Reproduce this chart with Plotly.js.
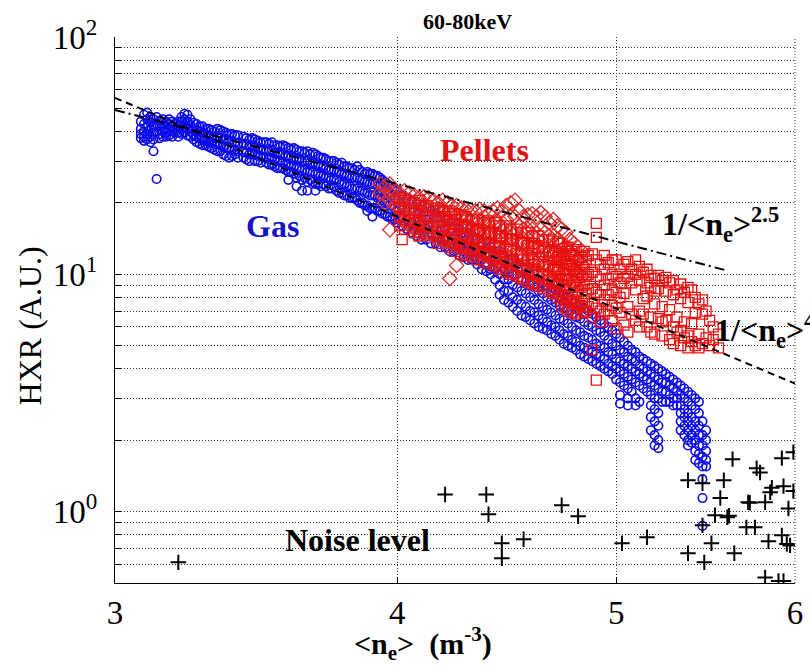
<!DOCTYPE html>
<html>
<head>
<meta charset="utf-8">
<script src="https://cdn.plot.ly/plotly-3.0.1.min.js"></script>
<style>
  html, body { margin: 0; padding: 0; background: #fff; }
  #chart { width: 810px; height: 670px; }
</style>
</head>
<body>
<div id="chart"></div>
<script>
// Hard X-ray signal (60-80 keV) versus line-averaged density, gas vs pellet fuelling.

// Gas fuelled discharges: density columns and the HXR values read at each.
const gasN = [
  3.08, 3.09, 3.10, 3.11, 3.12, 3.13, 3.14, 3.15, 3.16, 3.17, 3.18, 3.19, 3.20,
  3.21, 3.22, 3.23, 3.24, 3.25, 3.26, 3.27, 3.28, 3.29, 3.30, 3.31, 3.32, 3.33,
  3.34, 3.35, 3.36, 3.37, 3.38, 3.39, 3.40, 3.42, 3.43, 3.44, 3.45, 3.46, 3.47,
  3.48, 3.49, 3.50, 3.51, 3.52, 3.53, 3.54, 3.55, 3.56, 3.57, 3.58, 3.59, 3.60,
  3.61, 3.62, 3.63, 3.64, 3.65, 3.66, 3.67, 3.68, 3.69, 3.70, 3.71, 3.72, 3.73,
  3.74, 3.75, 3.76, 3.77, 3.78, 3.79, 3.80, 3.81, 3.82, 3.83, 3.84, 3.85, 3.86,
  3.87, 3.88, 3.89, 3.90, 3.91, 3.92, 3.93, 3.94, 3.95, 3.96, 3.97, 3.98, 3.99,
  4.00, 4.02, 4.04, 4.06, 4.08, 4.10, 4.12, 4.14, 4.16, 4.18, 4.20, 4.22, 4.24,
  4.26, 4.28, 4.30, 4.32, 4.34, 4.36, 4.38, 4.40, 4.42, 4.44, 4.46, 4.48, 4.50,
  4.52, 4.54, 4.56, 4.58, 4.60, 4.62, 4.64, 4.66, 4.68, 4.70, 4.72, 4.74, 4.76,
  4.78, 4.80, 4.82, 4.84, 4.86, 4.88, 4.90, 4.92, 4.94, 4.96, 4.98, 5.00, 5.02,
  5.04, 5.06, 5.08, 5.10, 5.12, 5.14, 5.16, 5.18, 5.20, 5.22, 5.24, 5.26, 5.28,
  5.30, 5.32, 5.34, 5.36, 5.38, 5.40, 5.42, 5.44, 5.46, 5.48
];
const gasHXR = [
  [44, 41, 39, 37.5], [47, 43, 40, 38, 36.5], [48, 45, 42, 39, 37], [46, 43.5, 40.5, 38, 36],
  [45, 42, 39.5, 37, 33], [46, 43, 40, 25.2], [44.5, 42, 39, 37.5], [45, 42.5, 40, 38],
  [44, 41.5, 39.5, 38], [45, 43, 40.5, 38.5], [44, 42, 40, 38], [43, 41, 39.5],
  [44, 42, 39.5, 38], [46, 44, 41, 39], [47.5, 45, 42, 39.5], [47, 44, 41, 38.5],
  [45, 42.5, 40, 38], [43.5, 41, 38.5, 37], [43, 40.5, 38, 36], [42, 40, 37.5, 35.5],
  [42, 39.5, 37, 35], [41, 39, 36.5, 35], [41, 38.5, 36, 34.5], [40.5, 38, 36, 34],
  [40, 37.5, 35.5, 33.5], [41, 38, 35.5, 33], [40.5, 37.5, 35, 33], [40, 37, 34.5, 32],
  [39.5, 37, 34, 31.5], [39, 36.5, 34, 31], [39, 36, 33.5, 31.5], [38.5, 36, 33.5, 32],
  [38.5, 35.5, 33, 31], [38, 35.5, 33, 31], [37.5, 35, 32.5, 30.5], [37, 34.5, 32, 30],
  [37.5, 35, 32.5], [37, 34.5, 32, 30], [36.5, 34, 31.5, 30], [36, 33.5, 31.5, 29.5],
  [36, 33.5, 31], [36, 33, 31, 29.5], [35.5, 33, 30.5, 29], [36, 33.5, 31, 29],
  [35, 32.5, 30.5, 28.5], [35, 32.5, 30, 28], [34.5, 32, 30, 28], [35, 32, 29.5, 28],
  [34.5, 31.5, 29, 27.5], [34, 31.5, 29, 27, 25], [33.5, 31, 28.5, 27], [34, 31, 28.5, 26.5],
  [33.5, 30.5, 28, 25.5, 23.5], [33, 30.5, 28, 26], [33, 30, 27.5, 25, 22.5], [32.5, 30, 27.5, 25.5],
  [33, 30, 27, 24.5, 22.5], [32, 29.5, 27, 25], [32.5, 29.5, 27, 24.5], [32, 29, 26.5, 24, 22.5],
  [31.5, 29, 26.5, 24], [31, 28.5, 26, 23.5], [31, 28.5, 26, 24], [30.5, 28, 25.5, 23.5],
  [30, 27.5, 25.5, 23], [30, 27.5, 25, 23], [30, 27.5, 25, 23.5], [29.5, 27, 25, 22.5],
  [29, 27, 24.5, 22], [29.5, 26.5, 24, 22], [28.5, 26.5, 24, 21.5], [28.5, 26, 23.5, 21.5],
  [28, 26, 23.5, 21], [28, 25.5, 23, 21], [27.5, 25.5, 23, 21], [28.5, 25.5, 23, 20.5],
  [27.5, 25, 22.5, 20], [27, 25, 22.5, 20], [26.5, 24.5, 22, 19.5], [27, 24.5, 22, 19.5, 18.5],
  [26.5, 24, 21.5, 19], [26.5, 24, 21.5, 19, 17.5], [26, 24, 21.5, 19], [26, 23.5, 21, 18.5],
  [25.5, 23.5, 21, 18.5], [25, 23, 20.5, 18], [24.5, 22.5, 20, 18], [24, 22, 20, 17.5],
  [23.5, 22, 19.5, 17.5], [23, 21.5, 19.5, 17], [23, 21, 19, 17], [22.5, 20.5, 18.5, 16.5],
  [21.5, 19.5, 17.5, 16], [21, 19, 17, 15.5], [20.5, 18.5, 16.5, 15], [20, 18, 16, 14.5],
  [19.5, 17.5, 15.5, 14], [19, 17, 15.5, 14], [18.5, 16.5, 15, 13.5], [18, 16, 14.5, 13.5],
  [17.5, 15.5, 14, 13], [17, 15.5, 14, 13], [16.5, 15, 13.5, 12.5], [16, 14.5, 13, 12.5],
  [15.5, 14, 13, 12], [15, 13.5, 12.5, 11.8], [15, 13.5, 12.5, 11.5], [14.5, 13, 12, 11.5],
  [14, 12.5, 11.5, 11], [13.5, 12.5, 11.5, 10.5], [13, 12, 11, 10.3], [13, 11.5, 10.5, 10],
  [12.5, 11.5, 10.5, 9.5], [12.5, 11, 10, 9, 8.2], [12, 10.5, 9.5, 8.5, 7.8], [11.5, 10.5, 9.5, 8.5, 7.6],
  [11.5, 10, 9, 8, 7.3], [11, 10, 8.8, 7.8, 7], [10.5, 9.5, 8.5, 7.5, 6.7], [10.5, 9.3, 8.3, 7.3, 6.6],
  [10, 9, 8, 7, 6.4], [10, 8.8, 7.8, 6.9, 6.2], [9.5, 8.5, 7.5, 6.7, 6.0], [9.2, 8.3, 7.3, 6.5, 5.9],
  [9, 8, 7.1, 6.3, 5.8], [8.8, 7.8, 6.9, 6.1, 5.6], [8.6, 7.6, 6.7, 6.0, 5.5], [8.4, 7.4, 6.5, 5.8, 5.3],
  [8.2, 7.2, 6.4, 5.6, 5.1], [8, 7, 6.2, 5.5, 5.0], [7.8, 6.8, 6.0, 5.3, 4.9], [7.6, 6.6, 5.8, 5.2, 4.8],
  [7.4, 6.5, 5.7, 5.0, 4.6], [7.2, 6.3, 5.5, 4.9, 4.5], [7, 6.1, 5.4, 4.8, 4.4], [6.8, 6.0, 5.3, 4.7, 4.3],
  [6.6, 5.8, 5.1, 4.6, 4.2], [6.4, 5.7, 5.0, 4.5, 4.1], [6.2, 5.5, 4.9, 4.4, 4.0], [6.0, 5.3, 4.7, 4.2, 3.9],
  [5.8, 5.1, 4.6, 4.1, 3.8], [5.6, 5.0, 4.4, 4.0, 3.6], [5.4, 4.8, 4.3, 3.9, 3.5, 3.1, 2.85],
  [5.2, 4.7, 4.2, 3.8, 3.4], [5.0, 4.5, 4.1, 3.7, 3.3, 3.0, 2.8], [4.8, 4.4, 4.0, 3.6, 3.2],
  [4.7, 4.3, 3.9, 3.5, 3.0, 2.8], [4.5, 4.1, 3.8, 3.4, 2.9], [4.4, 4.0, 3.7, 3.3], [4.3, 3.9, 3.6, 3.2],
  [4.2, 3.8, 3.5, 3.1, 2.8, 2.5, 2.2], [4.1, 3.7, 3.4, 3.0, 2.7, 2.4, 2.1, 1.9],
  [4.0, 3.6, 3.3, 3.0, 2.6, 2.3, 2.0, 1.85], [3.9, 3.5, 3.2, 2.9], [3.8, 3.5, 3.2, 2.9], [3.7, 3.4, 3.1, 2.9],
  [3.6, 3.3, 3.0, 2.8], [3.5, 3.2, 3.0, 2.8], [3.4, 3.1, 2.8, 2.6, 2.4, 2.2], [3.3, 3.0, 2.7, 2.5, 2.3, 2.1],
  [3.2, 2.9, 2.6, 2.4, 2.2, 2.0, 1.9], [3.1, 2.8, 2.5, 2.3, 2.1, 1.95], [3.0, 2.7, 2.4, 2.2, 2.0, 1.8, 1.65],
  [2.9, 2.6, 2.3, 2.1, 1.9, 1.75, 1.6], [2.4, 2.1, 1.9, 1.7, 1.55, 1.37, 1.14, 0.87], [2.2, 2.0, 1.8, 1.65, 1.55]
];

// Pellet fuelled discharges, diamond-marked series.
const pelletDiamondN = [
  3.93, 3.95, 3.97, 3.99, 4.01, 4.03, 4.05, 4.07, 4.09, 4.11, 4.13, 4.15, 4.17,
  4.19, 4.21, 4.22, 4.23, 4.25, 4.27, 4.29, 4.31, 4.33, 4.35, 4.37, 4.39, 4.41,
  4.43, 4.45, 4.47, 4.49, 4.51, 4.53, 4.55, 4.57, 4.59, 4.61, 4.63, 4.65, 4.67,
  4.69, 4.71, 4.73, 4.75, 4.77, 4.79, 4.81, 4.83
];
const pelletDiamondHXR = [
  [24, 22], [23.5, 21.5, 20], [24, 22, 20.5, 15.4], [22.5, 21, 19.5], [22, 20.5, 19, 17.5],
  [22.5, 21, 19.5, 18, 16.5], [22, 20.5, 19, 17.5, 16], [21.5, 20, 18.5, 17, 15.5], [21, 19.5, 18, 16.5, 15],
  [21.2, 19.5, 18, 16.5, 15], [21, 19, 17.5, 16, 14.5], [20.5, 18.8, 17.2, 15.8, 14.5], [20, 18.5, 17, 15.5, 14],
  [20.5, 18.5, 17, 15.5, 14], [20, 18.2, 16.7, 15.2, 13.8], [9.6], [19.5, 18, 16.5, 15, 13.5],
  [19.5, 17.8, 16.3, 14.8, 13.3, 10.9], [19, 17.5, 16, 14.5, 13], [18.8, 17.2, 15.8, 14.3, 12.8],
  [18.7, 17, 15.5, 14, 12.5], [18.5, 16.8, 15.3, 13.8, 12.3], [18.8, 16.8, 15, 13.5, 12.2],
  [18.5, 16.5, 14.8, 13.3, 12], [18.1, 16.3, 14.6, 13.1, 11.8], [18.5, 16.2, 14.5, 13, 11.5],
  [19, 16.5, 14.5, 12.8, 11.3], [18.5, 16, 14.2, 12.6, 11.1], [19.5, 17, 14.8, 13, 11.3],
  [20, 17.5, 15, 13, 11.5], [20.5, 17.5, 15, 12.8, 11.2], [18.5, 16, 13.8, 12, 10.6],
  [17.5, 15.5, 13.5, 11.8, 10.3], [17.8, 15.5, 13.5, 11.6, 10.2], [18, 15.5, 13.3, 11.5, 10],
  [17.5, 15, 13, 11.3, 9.9], [18.2, 15.5, 13, 11.2, 9.7], [17.5, 15, 12.8, 11, 9.6],
  [16.5, 14.5, 12.5, 10.8, 9.4], [17, 14.5, 12.3, 10.6, 9.3], [16, 14, 12, 10.4, 9.1],
  [15.5, 13.5, 11.8, 10.2], [15, 13.2, 11.5, 10], [14, 12.5, 11, 9.6], [13.5, 12, 10.5, 9.2],
  [13, 11.5, 10.2], [12.5, 11, 9.8]
];

// Pellet fuelled discharges, square-marked series.
const pelletSquareN = [
  4.01, 4.02, 4.03, 4.05, 4.07, 4.09, 4.10, 4.12, 4.15, 4.17, 4.19, 4.20, 4.22,
  4.24, 4.25, 4.27, 4.29, 4.30, 4.32, 4.34, 4.35, 4.37, 4.39, 4.40, 4.42, 4.44,
  4.45, 4.47, 4.49, 4.50, 4.52, 4.54, 4.55, 4.57, 4.59, 4.60, 4.62, 4.64, 4.65,
  4.67, 4.69, 4.70, 4.71, 4.72, 4.73, 4.74, 4.75, 4.76, 4.77, 4.78, 4.79, 4.80,
  4.81, 4.82, 4.83, 4.84, 4.85, 4.86, 4.88, 4.90, 4.92, 4.94, 4.96, 4.98, 5.00,
  5.02, 5.04, 5.06, 5.08, 5.10, 5.12, 5.14, 5.16, 5.18, 5.20, 5.22, 5.24, 5.26,
  5.28, 5.30, 5.32, 5.34, 5.36, 5.38, 5.40, 5.42, 5.44, 5.46, 5.48, 5.50, 5.52,
  5.55
];
const pelletSquareHXR = [
  [21, 19, 17.5, 16], [14], [20.5, 18.5, 17, 15.5], [20, 17], [20, 18, 16.5, 15],
  [20.5, 18.5, 17, 15.5, 14.5], [19.5, 16], [19.5, 17.5, 16, 14.8], [18.5, 15],
  [19, 17.5, 16, 14.5, 13.5], [18.5, 16.8, 15.2, 14], [17.5, 14.5], [18.5, 17, 15.5, 14, 13],
  [18, 16.3, 14.8, 13.5, 12.5], [17, 14], [17.8, 16, 14.5, 13.2, 12.2], [17.5, 15.8, 14.2, 13, 12],
  [16, 13.5], [17, 15.5, 14, 12.8, 11.8], [17, 15.3, 13.8, 12.5, 11.5], [15.5, 13],
  [16.5, 15, 13.5, 12.3, 11.2], [16.8, 15, 13.4, 12, 11], [15, 12.5], [16.5, 14.8, 13.2, 11.8, 10.8],
  [16, 14.5, 13, 11.6, 10.5], [14.5, 12, 10.5], [16, 14.2, 12.7, 11.3, 10.2], [15.5, 14, 12.5, 11, 10],
  [14, 11.5, 10], [15.5, 13.8, 12.2, 10.8, 9.8], [15, 13.5, 12, 10.6, 9.6], [13.5, 11.5, 9.5],
  [15, 13.2, 11.7, 10.4, 9.3], [14.5, 13, 11.5, 10.2, 9.1], [13.5, 11, 9.2], [14.5, 12.8, 11.3, 10, 8.9],
  [14, 12.5, 11, 9.8, 8.7], [13, 10.8, 9], [14, 12.3, 10.8, 9.5, 8.5], [13.8, 12, 10.6, 9.3, 8.3],
  [12.5, 10.5, 8.6], [13.5, 11.8, 10.4, 9.1, 8.0], [13.5, 11.5, 9.8, 8.4], [12.8, 11.2, 9.6, 8.2, 7.4],
  [12, 10.5, 9, 7.8], [12.5, 11, 9.4, 8.1, 7.2], [13, 11, 9.5, 8, 7], [12.2, 10.6, 9.0, 7.7],
  [12.5, 10.8, 9.2, 7.8, 6.9], [12, 10.3, 8.8, 7.5], [12.7, 10.5, 9, 7.6, 6.8],
  [11.5, 10, 8.5, 7.2], [11.8, 10.2, 8.8, 7.4], [11.8, 10, 8.6, 7.3], [12.5, 10.5, 9, 7.7, 6.9],
  [11.5, 9.8, 8.3, 7.0], [12, 10, 8.6, 7.3],
  [12.2, 10.2, 8.7, 7.5, 6.6, 4.8], [16.4, 14.3, 11.5, 9.8, 8.4, 7.2, 3.58], [11, 9.5, 8.2, 7, 6.3],
  [12, 10.5, 9, 7.8, 6.8], [11.2, 9.6, 8.2, 7], [11.5, 10, 8.6, 7.4, 6.4],
  [11.5, 9.8, 8.4, 7.2, 5.9], [10.5, 9.2, 8, 6.9], [11, 9.6, 8.3, 6.1], [11.3, 9.8, 7.3, 5.7],
  [10.5, 9.2, 6.8], [11.5, 10, 8.6, 6.4], [10.8, 9.4, 7, 6], [10.2, 7.9, 6.8], [10.5, 9.2, 8.1, 6],
  [9.9, 8.8, 6.6, 5.7], [9.6, 8.5, 7.5, 5.6], [9.9, 8.7, 6.5], [9.4, 7.3, 6.3, 5.5],
  [9.7, 8.5, 6.4], [9.2, 7.1, 5.3], [9.4, 8.2, 6, 5.1], [8.6, 6.6, 5.7], [9.1, 7.9, 5.8, 5.0],
  [8.4, 6.3, 5.4], [8.8, 7.6, 5.5, 4.9], [8.6, 6.2, 5.2], [8.0, 6.9, 5.0], [7.5, 5.6, 4.9],
  [7.8, 6.8, 5.1], [7.0, 5.4], [6.4, 5.0], [6.0, 5.3], [5.6, 4.9]
];

// Noise level readings.
const noiseN = [
  3.20, 4.20, 4.38, 4.39, 4.45, 4.45, 4.55, 4.73, 4.81, 5.03, 5.16, 5.38, 5.46,
  5.58, 5.63, 5.77, 5.79, 5.92, 5.99, 5.56, 5.53, 5.60, 5.61, 5.46, 5.51, 5.38,
  5.47, 5.64, 5.72, 5.73, 5.82, 5.85, 5.86, 5.93, 5.99, 5.96, 5.71, 5.76, 5.84,
  5.92, 5.95, 5.97, 5.82, 5.90, 5.93
];
const noiseHXR = [
  0.611, 1.18, 1.18, 0.974, 0.735, 0.635, 0.764, 1.063, 0.955, 0.735, 0.779, 1.356, 1.316,
  1.356, 1.663, 1.523, 1.46, 1.679, 1.78, 1.14, 0.965, 0.946, 0.96, 0.875, 0.735, 0.667,
  0.611, 0.667, 1.094, 1.09, 1.094, 1.206, 1.26, 1.28, 1.22, 1.03, 0.858, 0.858, 0.749,
  0.794, 0.73, 0.72, 0.528, 0.51, 0.51
];

// Power-law scalings HXR = A / <n_e>^p, drawn over the density span given.
const scalingExponents = [2.5, 4];
const scalingAmplitudes = [768.5, 4487];
const scalingSpans = [[3.0, 5.6], [3.0, 6.0]];
const scalingDash = ['10px,4px,2px,4px', '7px,5px'];

// Axis ticks.
const xTicks = [3, 4, 5, 6];
const yDecades = [1, 10, 100];
const yTicks = [0.5, 0.6, 0.7, 0.8, 0.9, 1, 2, 3, 4, 5, 6, 7, 8, 9,
                10, 20, 30, 40, 50, 60, 70, 80, 90, 100];

function flatten(cols, vals) {
  const xs = [], ys = [];
  cols.forEach((c, i) => vals[i].forEach(v => { xs.push(c); ys.push(v); }));
  return { xs, ys };
}

const serif = 'Liberation Serif';
const gas = flatten(gasN, gasHXR);
const dia = flatten(pelletDiamondN, pelletDiamondHXR);
const sq = flatten(pelletSquareN, pelletSquareHXR);

const traces = [
  { type: 'scatter', mode: 'markers', x: gas.xs, y: gas.ys, name: 'Gas',
    marker: { symbol: 'circle-open', size: 8.5, color: 'rgb(10,10,235)', line: { width: 1.6 } } },
  { type: 'scatter', mode: 'markers', x: dia.xs, y: dia.ys, name: 'Pellets',
    marker: { symbol: 'diamond-open', size: 11, color: 'rgb(222,45,45)', line: { width: 1.3 } } },
  { type: 'scatter', mode: 'markers', x: sq.xs, y: sq.ys, name: 'Pellets',
    marker: { symbol: 'square-open', size: 10, color: 'rgb(232,15,15)', line: { width: 1.3 } } }
];

scalingExponents.forEach((p, i) => {
  const xs = scalingSpans[i];
  traces.push({
    type: 'scatter', mode: 'lines', x: xs,
    y: xs.map(n => scalingAmplitudes[i] / Math.pow(n, p)),
    line: { color: 'black', width: 2, dash: scalingDash[i] },
    hoverinfo: 'skip'
  });
});

traces.push({ type: 'scatter', mode: 'markers', x: noiseN, y: noiseHXR, name: 'Noise',
  marker: { symbol: 'cross-thin-open', size: 11, color: 'black', line: { width: 2, color: 'black' } } });

const yText = yTicks.map(v => {
  const k = yDecades.indexOf(v);
  return k >= 0 ? '10<sup>' + k + '</sup>' : '';
});

const gridDots = '1px,2px';

const layout = {
  width: 810, height: 670,
  margin: { l: 115, r: 15, t: 37, b: 87 },
  paper_bgcolor: 'white', plot_bgcolor: 'white',
  showlegend: false,
  font: { family: serif, color: 'black', size: 16 },
  xaxis: {
    type: 'log', range: [Math.log10(3), Math.log10(6)],
    tickvals: xTicks, ticktext: xTicks.map(String),
    tickfont: { family: serif, size: 33, color: 'black' },
    ticks: 'inside', ticklen: 6, tickcolor: 'black',
    showline: true, linecolor: 'black', linewidth: 1,
    showgrid: true, gridcolor: '#333', gridwidth: 1, griddash: gridDots,
    zeroline: false
  },
  yaxis: {
    type: 'log', range: [Math.log10(0.5), 2],
    tickvals: yTicks, ticktext: yText,
    tickfont: { family: serif, size: 33, color: 'black' },
    ticks: 'inside', ticklen: 6, tickcolor: 'black', ticklabelstandoff: 10,
    showline: true, linecolor: 'black', linewidth: 1,
    showgrid: true, gridcolor: '#333', gridwidth: 1, griddash: gridDots,
    zeroline: false
  },
  shapes: [
    { type: 'line', xref: 'paper', yref: 'paper', x0: 1, x1: 1, y0: 0, y1: 1,
      line: { color: '#333', width: 1, dash: gridDots } }
  ],
  annotations: [
    { xref: 'paper', yref: 'paper', x: 0.519, y: 1.029, xanchor: 'center', yanchor: 'middle',
      text: '<b>60-80keV</b>', showarrow: false,
      font: { family: serif, size: 22, color: 'black' } },
    { xref: 'paper', yref: 'paper', x: -0.125, y: 0.47, xanchor: 'center', yanchor: 'middle',
      text: 'HXR (A.U.)', textangle: -90, showarrow: false,
      font: { family: serif, size: 32, color: 'black' } },
    { xref: 'paper', yref: 'paper', x: 0.453, y: -0.11, xanchor: 'center', yanchor: 'middle',
      text: '<b>&lt;n<sub>e</sub>&gt;&nbsp;&nbsp;(m<sup>-3</sup>)</b>', showarrow: false,
      font: { family: serif, size: 30, color: 'black' } },
    { xref: 'paper', yref: 'paper', x: 0.231, y: 0.654, xanchor: 'center', yanchor: 'middle',
      text: '<b>Gas</b>', showarrow: false,
      font: { family: serif, size: 32, color: 'rgb(20,20,200)' } },
    { xref: 'paper', yref: 'paper', x: 0.543, y: 0.793, xanchor: 'center', yanchor: 'middle',
      text: '<b>Pellets</b>', showarrow: false,
      font: { family: serif, size: 32, color: 'rgb(222,20,20)' } },
    { xref: 'paper', yref: 'paper', x: 0.801, y: 0.656, xanchor: 'left', yanchor: 'middle',
      text: '<b>1/&lt;n<sub>e</sub>&gt;<sup>2.5</sup></b>', showarrow: false,
      font: { family: serif, size: 32, color: 'black' } },
    { xref: 'paper', yref: 'paper', x: 0.879, y: 0.463, xanchor: 'left', yanchor: 'middle',
      text: '<b>1/&lt;n<sub>e</sub>&gt;<sup>4</sup></b>', showarrow: false,
      font: { family: serif, size: 32, color: 'black' } },
    { xref: 'paper', yref: 'paper', x: 0.357, y: 0.079, xanchor: 'center', yanchor: 'middle',
      text: '<b>Noise level</b>', showarrow: false,
      font: { family: serif, size: 32, color: 'black' } }
  ]
};

Plotly.newPlot('chart', traces, layout, { displayModeBar: false, staticPlot: true });
</script>
</body>
</html>
